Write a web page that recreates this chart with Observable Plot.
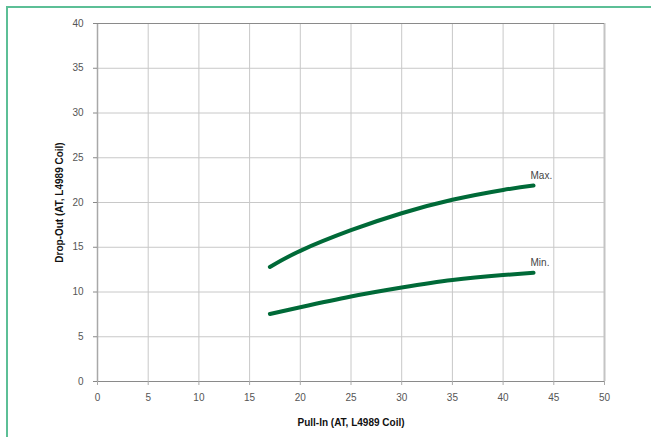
<!DOCTYPE html>
<html>
<head>
<meta charset="utf-8">
<script src="https://cdn.jsdelivr.net/npm/d3@7"></script>
<script src="https://cdn.jsdelivr.net/npm/@observablehq/plot@0.6"></script>
<style>
  html, body { margin: 0; padding: 0; background: #fff; }
  #wrap { position: relative; width: 651px; height: 437px; }
  #frame { position: absolute; left: 6px; top: 6px; right: 0; bottom: 0;
           border-top: 2px solid #5cbf96; border-left: 2px solid #5cbf96; pointer-events: none; }
  svg { display: block; }
</style>
</head>
<body>
<div id="wrap"><div id="frame"></div></div>
<script>
const pullIn = [17, 20, 25, 30, 35, 40, 43];
const dropOutMax = [12.8, 14.6, 16.9, 18.8, 20.3, 21.4, 21.9];
const dropOutMin = [7.55, 8.3, 9.5, 10.5, 11.35, 11.9, 12.15];
const seriesNames = ["Max.", "Min."];
const xTicks = [0, 5, 10, 15, 20, 25, 30, 35, 40, 45, 50];
const yTicks = [0, 5, 10, 15, 20, 25, 30, 35, 40];

const rows = [];
pullIn.forEach((x, i) => rows.push({series: "Max.", x, y: dropOutMax[i]}));
pullIn.forEach((x, i) => rows.push({series: "Min.", x, y: dropOutMin[i]}));
const ends = seriesNames.map(s => rows.filter(r => r.series === s).slice(-1)[0]);

const green = "#006a38";
const chart = Plot.plot({
  width: 651,
  height: 437,
  marginLeft: 97,
  marginRight: 47,
  marginTop: 23,
  marginBottom: 56,
  style: { fontFamily: "Liberation Sans, Arial, sans-serif", fontSize: "10px", color: "#555", background: "transparent" },
  x: { domain: [0, 50], ticks: xTicks, label: null },
  y: { domain: [0, 40], ticks: yTicks, label: null },
  marks: [
    Plot.gridX(xTicks, { stroke: "#c8c8c8", strokeOpacity: 1 }),
    Plot.gridY(yTicks, { stroke: "#c8c8c8", strokeOpacity: 1 }),
    Plot.ruleX([0], { stroke: "#a8a8a8", strokeWidth: 1.5 }),
    Plot.ruleX([50], { stroke: "#c4c4c4", strokeWidth: 2 }),
    Plot.ruleY([0, 40], { stroke: "#8a8a8a", strokeWidth: 1.2 }),
    Plot.axisX(xTicks, { tickSize: 4, tickPadding: 8, stroke: "#aaa", fill: "#555", label: "Pull-In (AT, L4989 Coil)", labelAnchor: "center", labelOffset: 44, labelArrow: "none" }),
    Plot.axisY(yTicks, { tickSize: 4, tickPadding: 10, stroke: "#888", fill: "#555", label: "Drop-Out (AT, L4989 Coil)", labelAnchor: "center", labelOffset: 42, labelArrow: "none" }),
    Plot.line(rows, { x: "x", y: "y", z: "series", stroke: green, strokeWidth: 4, curve: "natural" }),
    Plot.text(ends, { x: "x", y: "y", text: "series", textAnchor: "start", dx: -3, dy: -10, fill: "#444", fontSize: 10 })
  ]
});
// bold axis titles, strip arrows
chart.querySelectorAll("g[aria-label='x-axis label'] text, g[aria-label='y-axis label'] text").forEach(t => {
  t.setAttribute("font-weight", "bold");
  t.setAttribute("fill", "#111");
  t.textContent = t.textContent.replace(/[\u2190-\u2193]/g, "").trim();
});
document.getElementById("wrap").prepend(chart);
</script>
</body>
</html>
